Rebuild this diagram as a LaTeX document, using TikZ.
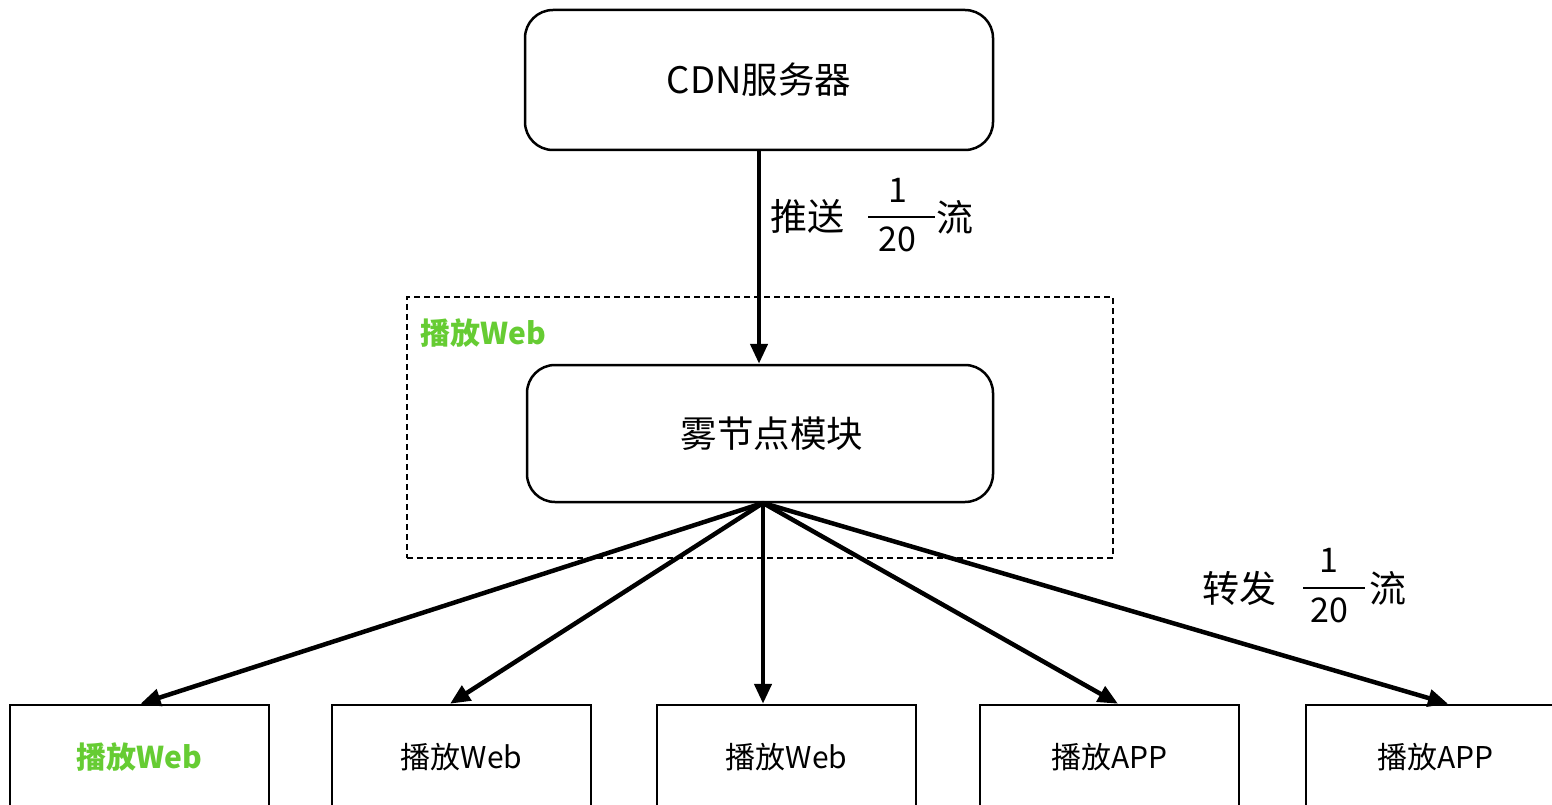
\documentclass[tikz,border=0pt]{standalone}
\usepackage{fontspec}
\setmainfont{Noto Sans CJK SC}
\usetikzlibrary{arrows.meta,calc}
\definecolor{webgreen}{HTML}{66CC33}
\begin{document}
\begin{tikzpicture}[x=1pt,y=-1pt,
  rbox/.style={draw, line width=2.5pt, rounded corners=28pt, minimum width=468pt, minimum height=140pt, inner sep=0pt, font=\fontsize{36.5}{42}\selectfont},
  pbox/.style={draw, line width=2.5pt, minimum width=259pt, minimum height=105pt, inner sep=0pt, font=\fontsize{30}{36}\selectfont},
  grpbox/.style={draw, line width=2pt, dash pattern=on 6pt off 4pt, minimum width=706pt, minimum height=261pt, inner sep=0pt},
  flow/.style={line width=4.5pt, -{Triangle[length=20pt,width=17pt]}},
  lbl/.style={font=\fontsize{37}{42}\selectfont, inner sep=0pt},
  num/.style={font=\fontsize{34}{40}\selectfont, inner sep=0pt},
  bar/.style={line width=2pt}]
\clip (0,0) rectangle (1552,805);
% group
\node[grpbox] (grp) at (760,427.5) {};
\node[anchor=west, inner sep=0pt, text=webgreen, font=\fontsize{30}{36}\selectfont\bfseries] (glabel) at (420,333) {播放Web};
% main boxes
\node[rbox] (cdn) at (759,80) {CDN服务器};
\node[rbox, minimum width=466pt, minimum height=137pt] (fog) at (760,433.5) {\hspace*{24pt}雾节点模块};
% bottom boxes
\node[pbox, text=webgreen, font=\fontsize{30}{36}\selectfont\bfseries] (b1) at (139.5,757.5) {播放Web};
\node[pbox] (b2) at (461.5,757.5) {播放Web};
\node[pbox] (b3) at (786.5,757.5) {播放Web};
\node[pbox] (b4) at (1109.5,757.5) {播放APP};
\node[pbox] (b5) at (1435.5,757.5) {播放APP};
% arrows
\draw[flow] (cdn.south) -- (cdn.south |- fog.north);
\coordinate (hub) at (763,503);
\draw[flow] (hub) -- ($(b1.north)+(1,0)$);
\draw[flow] (hub) -- ($(b2.north)+(-11.5,0)$);
\draw[flow] (hub) -- (hub |- b3.north);
\draw[flow] (hub) -- ($(b4.north)+(8.5,0)$);
\draw[flow] (hub) -- ($(b5.north)+(12.5,0)$);
% label push
\node[lbl] (push) at (807,216) {推送};
\node[num] (pnum) at (898,190) {1};
\node[num] (pden) at (897,239) {20};
\coordinate (pbl) at (868,217);
\coordinate (pbr) at (935,217);
\draw[bar] (pbl) -- (pbr);
\node[lbl] (pflow) at (955,217) {流};
% label forward
\node[lbl] (fwd) at (1239,588) {转发};
\node[num] (fnum) at (1329,560) {1};
\node[num] (fden) at (1329,610) {20};
\coordinate (fbl) at (1303,588);
\coordinate (fbr) at (1365,588);
\draw[bar] (fbl) -- (fbr);
\node[lbl] (fflow) at (1388,588) {流};
\end{tikzpicture}
\end{document}
